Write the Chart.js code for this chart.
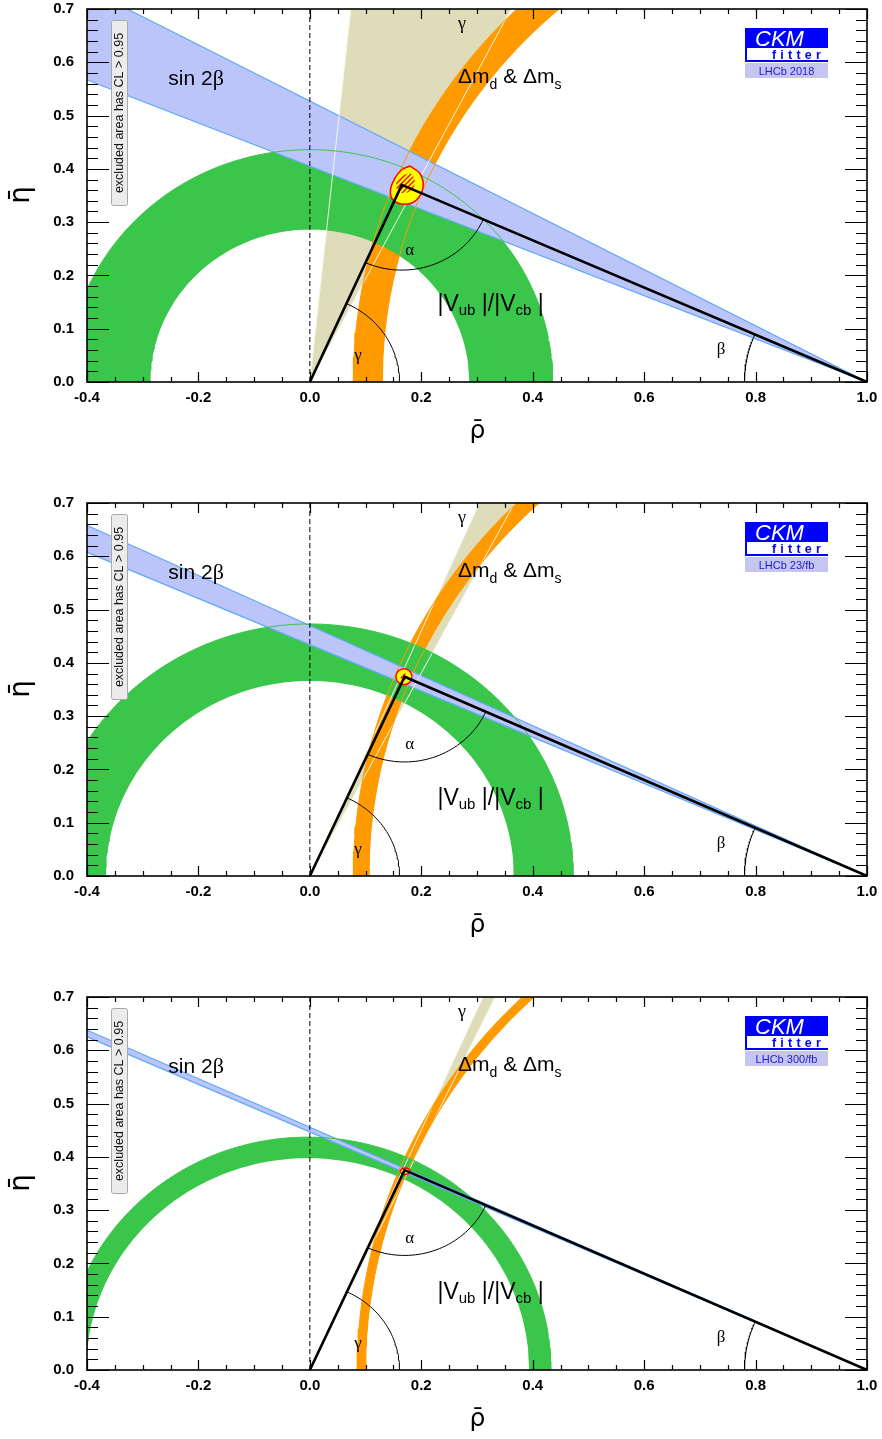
<!DOCTYPE html>
<html>
<head>
<meta charset="utf-8">
<script src="https://cdn.jsdelivr.net/npm/chart.js@4/dist/chart.umd.min.js"></script>
<style>
  html, body { margin: 0; padding: 0; background: #fff; }
  #wrap { position: relative; width: 882px; height: 1439px; }
  canvas { position: absolute; left: 0; }
</style>
</head>
<body>
<div id="wrap">
  <canvas id="c0" width="882" height="451" style="top:0px"></canvas>
  <canvas id="c1" width="882" height="451" style="top:494px"></canvas>
  <canvas id="c2" width="882" height="451" style="top:988px"></canvas>
</div>
<script>
// one entry per panel
const panels = ['LHCb 2018', 'LHCb 23/fb', 'LHCb 300/fb'];

// |Vub|/|Vcb| : ring round (vubCentre, 0)
const vubCentre = [0.0, 0.0, -0.004];
const vubInner = [0.286, 0.366, 0.3975];
const vubOuter = [0.436, 0.473, 0.437];

// dm_d & dm_s : ring round (dmCentre, 0)
const dmCentre = [1.06, 1.06, 1.06];
const dmInner = [0.930, 0.954, 0.960];
const dmOuter = [0.982, 0.982, 0.975];

// sin 2beta : wedge from (1,0), angle beta in degrees
const betaLow = [22.05, 23.46, 24.07];
const betaHigh = [27.8, 25.17, 24.49];

// gamma : wedge from (0,0), angle in degrees
const gammaLow = [62.7, 62.3, 64.6];
const gammaHigh = [84.0, 66.5, 66.05];

// apex of the triangle
const apexRho = [0.165, 0.170, 0.170];
const apexEta = [0.370, 0.374, 0.375];

// global fit contours (95% yellow, 68% hatched)
const blobRho = [
  [0.1794, 0.1973, 0.2033, 0.1913, 0.1704, 0.1495, 0.1447, 0.1525, 0.1644],
  [0.1835, 0.1793, 0.1690, 0.1587, 0.1545, 0.1587, 0.1690, 0.1793],
  [0.162, 0.166, 0.176, 0.180, 0.176, 0.166]
];
const blobEta = [
  [0.4054, 0.3917, 0.3665, 0.3415, 0.3334, 0.3415, 0.3603, 0.3823, 0.3979],
  [0.3740, 0.3846, 0.3890, 0.3846, 0.3740, 0.3634, 0.3590, 0.3634],
  [0.373, 0.378, 0.378, 0.373, 0.368, 0.368]
];
const coreRho = [
  [0.1614, 0.1794, 0.1883, 0.1853, 0.1704, 0.1566, 0.1554],
  [0.1760, 0.1690, 0.1620, 0.1690],
  []
];
const coreEta = [
  [0.3853, 0.3917, 0.3791, 0.3635, 0.3541, 0.3603, 0.3759],
  [0.3740, 0.3820, 0.3740, 0.3660],
  []
];

// axis tick labels
const xTickLabels = [-0.4, -0.2, 0.0, 0.2, 0.4, 0.6, 0.8, 1.0];
const yTickLabels = [0.0, 0.1, 0.2, 0.3, 0.4, 0.5, 0.6, 0.7];

const colors = {
  beige: '#dfdcb9', beigeLine: '#f6f4e6',
  orange: '#ff9a00', green: '#39c64a',
  blue: '#bcc5fa', blueLine: '#62aaf6',
  yellow: '#ffff00', red: '#ff0000'
};

function rad(d) { return d * Math.PI / 180; }

function arcPts(cx, cy, r, a0, a1, n) {
  const pts = [];
  for (let i = 0; i <= n; i++) {
    const t = rad(a0 + (a1 - a0) * i / n);
    pts.push({x: cx + r * Math.cos(t), y: cy + r * Math.sin(t)});
  }
  return pts;
}

function ringPts(cx, rIn, rOut) {
  const pts = arcPts(cx, 0, rOut, 0, 180, 160).concat(arcPts(cx, 0, rIn, 180, 0, 160));
  pts.push(pts[0]);
  return pts;
}

function wedgePts(px, py, a0, a1, len) {
  return [
    {x: px, y: py},
    {x: px + len * Math.cos(rad(a0)), y: py + len * Math.sin(rad(a0))},
    {x: px + len * Math.cos(rad(a1)), y: py + len * Math.sin(rad(a1))},
    {x: px, y: py}
  ];
}

function rayPts(px, py, a, len) {
  return [{x: px, y: py}, {x: px + len * Math.cos(rad(a)), y: py + len * Math.sin(rad(a))}];
}

function contour(rhos, etas) {
  const pts = rhos.map((r, i) => ({x: r, y: etas[i]}));
  if (pts.length) pts.push(pts[0]);
  return pts;
}

function shape(data, color, extra) {
  return Object.assign({data, fill: 'shape', backgroundColor: color,
    borderColor: 'rgba(0,0,0,0)', borderWidth: 0, pointRadius: 0}, extra || {});
}

function stroke(data, color, width, extra) {
  return Object.assign({data, fill: false, borderColor: color,
    borderWidth: width, pointRadius: 0}, extra || {});
}

function hatchPattern() {
  const c = document.createElement('canvas');
  c.width = 5; c.height = 5;
  const g = c.getContext('2d');
  g.strokeStyle = colors.red;
  g.lineWidth = 1.3;
  g.beginPath();
  g.moveTo(0, 5); g.lineTo(5, 0);
  g.moveTo(-1, 1); g.lineTo(1, -1);
  g.moveTo(4, 6); g.lineTo(6, 4);
  g.stroke();
  return g.createPattern(c, 'repeat');
}

function buildDatasets(p) {
  const aR = apexRho[p], aE = apexEta[p];
  const gam = Math.atan2(aE, aR) * 180 / Math.PI;
  const bet = Math.atan2(aE, 1 - aR) * 180 / Math.PI;
  const toO = Math.atan2(-aE, -aR) * 180 / Math.PI;
  const toB = Math.atan2(-aE, 1 - aR) * 180 / Math.PI;

  const list = [
    shape(wedgePts(0, 0, gammaLow[p], gammaHigh[p], 1.2), colors.beige),
    shape(ringPts(dmCentre[p], dmInner[p], dmOuter[p]), colors.orange),
    shape(ringPts(vubCentre[p], vubInner[p], vubOuter[p]), colors.green),
    shape(wedgePts(1, 0, 180 - betaLow[p], 180 - betaHigh[p], 1.8), colors.blue),
    stroke(rayPts(1, 0, 180 - betaLow[p], 1.8), colors.blueLine, 1.2),
    stroke(rayPts(1, 0, 180 - betaHigh[p], 1.8), colors.blueLine, 1.2),
    stroke(rayPts(0, 0, gammaLow[p], 1.2), colors.beigeLine, 1),
    stroke(rayPts(0, 0, gammaHigh[p], 1.2), colors.beigeLine, 1),
    stroke(arcPts(dmCentre[p], 0, dmInner[p], 0, 180, 200), colors.orange, 1),
    stroke(arcPts(dmCentre[p], 0, dmOuter[p], 0, 180, 200), colors.orange, 1),
    stroke(arcPts(vubCentre[p], 0, vubOuter[p], 0, 180, 160), colors.green, 1),
    stroke([{x: 0, y: 0}, {x: 0, y: 0.7}], '#000', 1, {borderDash: [5, 3]}),
    shape(contour(blobRho[p], blobEta[p]), colors.yellow,
      {borderColor: colors.red, borderWidth: 1.5, tension: 0.35}),
    shape(contour(coreRho[p], coreEta[p]), hatchPattern(), {tension: 0.3}),
    stroke([{x: 0, y: 0}, {x: aR, y: aE}, {x: 1, y: 0}], '#000', 2.6,
      {borderJoinStyle: 'miter'}),
    stroke(arcPts(0, 0, 0.161, 0, gam, 40), '#000', 1),
    stroke(arcPts(aR, aE, 0.16, toO, toB, 40), '#000', 1),
    stroke(arcPts(1, 0, 0.22, 180 - bet, 180, 30), '#000', 1)
  ];
  const n = list.length;
  list.forEach((d, i) => { d.order = n - i; });
  return list;
}

function drawFrame(chart) {
  const {ctx, chartArea: a, scales: {x, y}} = chart;
  ctx.save();
  ctx.strokeStyle = '#000';
  ctx.lineWidth = 1.2;
  ctx.beginPath();
  for (let i = 0; i <= 28; i++) {
    const px = Math.round(x.getPixelForValue(-0.4 + i * 0.05)) + 0.5;
    const len = i % 4 === 0 ? 10 : 5;
    ctx.moveTo(px, a.bottom); ctx.lineTo(px, a.bottom - len);
    ctx.moveTo(px, a.top); ctx.lineTo(px, a.top + len);
  }
  for (let j = 0; j <= 35; j++) {
    const py = Math.round(y.getPixelForValue(j * 0.02)) + 0.5;
    const len = j % 5 === 0 ? 22 : 11;
    ctx.moveTo(a.left, py); ctx.lineTo(a.left + len, py);
    ctx.moveTo(a.right, py); ctx.lineTo(a.right - len, py);
  }
  ctx.stroke();
  ctx.lineWidth = 1.6;
  ctx.strokeRect(a.left, a.top, a.right - a.left, a.bottom - a.top);
  ctx.restore();
}

// draws runs of [text, font, dy] one after another
function runs(ctx, x, y, parts) {
  for (const [t, f, dy] of parts) {
    ctx.font = f;
    ctx.fillText(t, x, y + dy);
    x += ctx.measureText(t).width;
  }
}

function textPlugin(p) {
  return {
    id: 'texts' + p,
    afterDraw(chart) {
      const {ctx, scales: {x, y}} = chart;
      const X = v => x.getPixelForValue(v), Y = v => y.getPixelForValue(v);
      drawFrame(chart);
      ctx.save();
      ctx.fillStyle = '#000';
      ctx.textAlign = 'left';
      ctx.textBaseline = 'alphabetic';
      const S = '"Liberation Sans", Arial, sans-serif';
      const G = '"Liberation Serif", serif';

      runs(ctx, X(-0.254), Y(0.557), [['sin 2', '21px ' + S, 0], ['\u03B2', '22px ' + G, 0]]);
      runs(ctx, X(0.266), Y(0.561), [['\u0394m', '21px ' + S, 0], ['d', '14px ' + S, 6],
        [' & \u0394m', '21px ' + S, 0], ['s', '14px ' + S, 6]]);
      runs(ctx, X(0.229), Y(0.133), [['|V', '23px ' + S, 0], ['ub', '15px ' + S, 4],
        [' |/|V', '23px ' + S, 0], ['cb', '15px ' + S, 4], [' |', '23px ' + S, 0]]);

      ctx.textAlign = 'center';
      ctx.textBaseline = 'middle';
      ctx.font = '18px ' + G;
      ctx.fillText('\u03B3', X(0.273), Y(0.672));
      ctx.font = '17px ' + G;
      ctx.fillText('\u03B1', X(0.179), Y(0.246));
      ctx.fillText('\u03B2', X(0.738), Y(0.060));
      ctx.fillText('\u03B3', X(0.0866), Y(0.050));

      // axis titles
      ctx.textBaseline = 'alphabetic';
      ctx.font = '25px "DejaVu Sans", sans-serif';
      ctx.fillText('\u03C1\u0304', 477.5, 438);
      ctx.save();
      ctx.translate(29, 195);
      ctx.rotate(-Math.PI / 2);
      ctx.font = '28px "DejaVu Sans", sans-serif';
      ctx.fillText('\u03B7\u0304', 0, 0);
      ctx.restore();

      // note box
      ctx.save();
      ctx.fillStyle = '#ececec';
      ctx.strokeStyle = '#a9a9a9';
      ctx.lineWidth = 1;
      ctx.beginPath();
      ctx.roundRect(111.5, 20.5, 16, 185, 2);
      ctx.fill(); ctx.stroke();
      ctx.translate(120, 113);
      ctx.rotate(-Math.PI / 2);
      ctx.fillStyle = '#111';
      ctx.textBaseline = 'middle';
      ctx.font = '12.5px ' + S;
      ctx.fillText('excluded area has CL > 0.95', 0, 0);
      ctx.restore();

      // CKMfitter logo
      ctx.fillStyle = '#0000ff';
      ctx.fillRect(745, 28, 83, 20);
      ctx.fillRect(745, 48, 2, 14);
      ctx.fillRect(745, 60, 83, 2);
      ctx.fillStyle = '#fff';
      ctx.textAlign = 'left';
      ctx.font = 'italic 22px ' + S;
      ctx.fillText('CKM', 755, 46);
      ctx.fillStyle = '#0000ff';
      ctx.font = 'bold 12.5px ' + S;
      let fx = 772;
      for (const ch of 'fitter') {
        ctx.fillText(ch, fx, 58.5);
        fx += ctx.measureText(ch).width + 4.2;
      }
      ctx.fillStyle = '#c5c5ef';
      ctx.fillRect(745, 63, 83, 15);
      ctx.fillStyle = '#1b1bd8';
      ctx.textAlign = 'center';
      ctx.font = '11px ' + S;
      ctx.fillText(panels[p], 786.5, 74.5);
      ctx.restore();
    }
  };
}

const tickFont = {family: '"Liberation Sans", Arial, sans-serif', weight: 'bold', size: 15};

panels.forEach((name, p) => {
  new Chart(document.getElementById('c' + p), {
    type: 'line',
    data: {datasets: buildDatasets(p)},
    options: {
      responsive: false,
      animation: false,
      events: [],
      layout: {padding: {top: 9, right: 15, left: 0, bottom: 0}},
      plugins: {legend: {display: false}, tooltip: {enabled: false}},
      scales: {
        x: {
          type: 'linear', min: -0.4, max: 1.0,
          afterFit: s => { s.height = 69; s.paddingLeft = 0; s.paddingRight = 0; },
          afterBuildTicks: s => { s.ticks = xTickLabels.map(v => ({value: v})); },
          ticks: {callback: v => v.toFixed(1), font: tickFont, color: '#000',
            padding: 7, maxRotation: 0, autoSkip: false},
          grid: {display: false, drawTicks: false},
          border: {display: false}
        },
        y: {
          type: 'linear', min: 0, max: 0.7,
          afterFit: s => { s.width = 87; s.paddingTop = 0; s.paddingBottom = 0; },
          afterBuildTicks: s => { s.ticks = yTickLabels.map(v => ({value: v})); },
          ticks: {callback: v => v.toFixed(1), font: tickFont, color: '#000',
            padding: 13, autoSkip: false},
          grid: {display: false, drawTicks: false},
          border: {display: false}
        }
      }
    },
    plugins: [textPlugin(p)]
  });
});
</script>
</body>
</html>
